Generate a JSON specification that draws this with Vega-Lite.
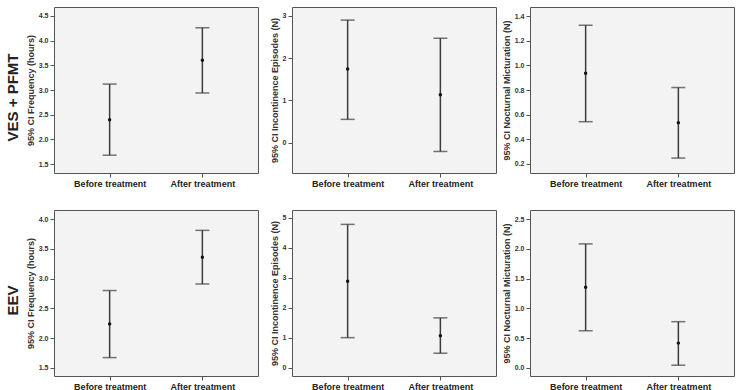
{
  "$schema": "https://vega.github.io/schema/vega-lite/v6.json",
  "background": "white",
  "padding": {"left": 5, "top": 6, "right": 3, "bottom": 1},
  "spacing": 20,
  "datasets": {
    "ci": [
      {"panel": "VES-freq", "group": "Before treatment", "mean": 2.40, "lower": 1.68, "upper": 3.12},
      {"panel": "VES-freq", "group": "After treatment", "mean": 3.60, "lower": 2.94, "upper": 4.26},
      {"panel": "VES-inc", "group": "Before treatment", "mean": 1.74, "lower": 0.55, "upper": 2.90},
      {"panel": "VES-inc", "group": "After treatment", "mean": 1.13, "lower": -0.21, "upper": 2.47},
      {"panel": "VES-noc", "group": "Before treatment", "mean": 0.935, "lower": 0.543, "upper": 1.325},
      {"panel": "VES-noc", "group": "After treatment", "mean": 0.535, "lower": 0.248, "upper": 0.82},
      {"panel": "EEV-freq", "group": "Before treatment", "mean": 2.24, "lower": 1.674, "upper": 2.80},
      {"panel": "EEV-freq", "group": "After treatment", "mean": 3.36, "lower": 2.91, "upper": 3.81},
      {"panel": "EEV-inc", "group": "Before treatment", "mean": 2.88, "lower": 1.0, "upper": 4.78},
      {"panel": "EEV-inc", "group": "After treatment", "mean": 1.06, "lower": 0.48, "upper": 1.66},
      {"panel": "EEV-noc", "group": "Before treatment", "mean": 1.356, "lower": 0.625, "upper": 2.083},
      {"panel": "EEV-noc", "group": "After treatment", "mean": 0.417, "lower": 0.046, "upper": 0.777}
    ]
  },
  "vconcat": [
    {
      "title": {"text": "VES + PFMT"},
      "bounds": "flush",
      "spacing": 34,
      "hconcat": [
        {
          "width": 204, "height": 166,
          "data": {"name": "ci"},
          "transform": [{"filter": {"field": "panel", "equal": "VES-freq"}}],
          "encoding": {
            "x": {"field": "group", "type": "nominal", "sort": null, "scale": {"type": "point", "padding": 0.6, "domain": ["Before treatment", "After treatment"]}, "axis": {"title": null}}
          },
          "layer": [
            {"mark": {"type": "rule", "color": "#3c3c3c", "strokeWidth": 1.5},
             "encoding": {"y": {"field": "lower", "type": "quantitative", "scale": {"domain": [1.32, 4.68], "nice": false, "zero": false}, "axis": {"title": "95% CI Frequency (hours)", "values": [1.5, 2.0, 2.5, 3.0, 3.5, 4.0, 4.5], "tickCount": 20, "labelOverlap": false, "format": ".1f"}}, "y2": {"field": "upper"}}},
            {"mark": {"type": "tick", "color": "#3c3c3c", "size": 14, "thickness": 1.5},
             "encoding": {"y": {"field": "lower", "type": "quantitative"}}},
            {"mark": {"type": "tick", "color": "#3c3c3c", "size": 14, "thickness": 1.5},
             "encoding": {"y": {"field": "upper", "type": "quantitative"}}},
            {"mark": {"type": "point", "filled": true, "color": "#111111", "size": 12, "opacity": 1},
             "encoding": {"y": {"field": "mean", "type": "quantitative"}}}
          ]
        },
        {
          "width": 204, "height": 166,
          "data": {"name": "ci"},
          "transform": [{"filter": {"field": "panel", "equal": "VES-inc"}}],
          "encoding": {
            "x": {"field": "group", "type": "nominal", "sort": null, "scale": {"type": "point", "padding": 0.6, "domain": ["Before treatment", "After treatment"]}, "axis": {"title": null}}
          },
          "layer": [
            {"mark": {"type": "rule", "color": "#3c3c3c", "strokeWidth": 1.5},
             "encoding": {"y": {"field": "lower", "type": "quantitative", "scale": {"domain": [-0.72, 3.21], "nice": false, "zero": false}, "axis": {"title": "95% CI Incontinence Episodes (N)", "values": [0, 1, 2, 3], "tickCount": 20, "labelOverlap": false, "format": "d"}}, "y2": {"field": "upper"}}},
            {"mark": {"type": "tick", "color": "#3c3c3c", "size": 14, "thickness": 1.5},
             "encoding": {"y": {"field": "lower", "type": "quantitative"}}},
            {"mark": {"type": "tick", "color": "#3c3c3c", "size": 14, "thickness": 1.5},
             "encoding": {"y": {"field": "upper", "type": "quantitative"}}},
            {"mark": {"type": "point", "filled": true, "color": "#111111", "size": 12, "opacity": 1},
             "encoding": {"y": {"field": "mean", "type": "quantitative"}}}
          ]
        },
        {
          "width": 204, "height": 166,
          "data": {"name": "ci"},
          "transform": [{"filter": {"field": "panel", "equal": "VES-noc"}}],
          "encoding": {
            "x": {"field": "group", "type": "nominal", "sort": null, "scale": {"type": "point", "padding": 0.6, "domain": ["Before treatment", "After treatment"]}, "axis": {"title": null}}
          },
          "layer": [
            {"mark": {"type": "rule", "color": "#3c3c3c", "strokeWidth": 1.5},
             "encoding": {"y": {"field": "lower", "type": "quantitative", "scale": {"domain": [0.127, 1.473], "nice": false, "zero": false}, "axis": {"title": "95% CI Nocturnal Micturation (N)", "values": [0.2, 0.4, 0.6, 0.8, 1.0, 1.2, 1.4], "tickCount": 20, "labelOverlap": false, "format": ".1f"}}, "y2": {"field": "upper"}}},
            {"mark": {"type": "tick", "color": "#3c3c3c", "size": 14, "thickness": 1.5},
             "encoding": {"y": {"field": "lower", "type": "quantitative"}}},
            {"mark": {"type": "tick", "color": "#3c3c3c", "size": 14, "thickness": 1.5},
             "encoding": {"y": {"field": "upper", "type": "quantitative"}}},
            {"mark": {"type": "point", "filled": true, "color": "#111111", "size": 12, "opacity": 1},
             "encoding": {"y": {"field": "mean", "type": "quantitative"}}}
          ]
        }
      ]
    },
    {
      "title": {"text": "EEV"},
      "bounds": "flush",
      "spacing": 34,
      "hconcat": [
        {
          "width": 204, "height": 166,
          "data": {"name": "ci"},
          "transform": [{"filter": {"field": "panel", "equal": "EEV-freq"}}],
          "encoding": {
            "x": {"field": "group", "type": "nominal", "sort": null, "scale": {"type": "point", "padding": 0.6, "domain": ["Before treatment", "After treatment"]}, "axis": {"title": null}}
          },
          "layer": [
            {"mark": {"type": "rule", "color": "#3c3c3c", "strokeWidth": 1.5},
             "encoding": {"y": {"field": "lower", "type": "quantitative", "scale": {"domain": [1.365, 4.152], "nice": false, "zero": false}, "axis": {"title": "95% CI Frequency (hours)", "values": [1.5, 2.0, 2.5, 3.0, 3.5, 4.0], "tickCount": 20, "labelOverlap": false, "format": ".1f"}}, "y2": {"field": "upper"}}},
            {"mark": {"type": "tick", "color": "#3c3c3c", "size": 14, "thickness": 1.5},
             "encoding": {"y": {"field": "lower", "type": "quantitative"}}},
            {"mark": {"type": "tick", "color": "#3c3c3c", "size": 14, "thickness": 1.5},
             "encoding": {"y": {"field": "upper", "type": "quantitative"}}},
            {"mark": {"type": "point", "filled": true, "color": "#111111", "size": 12, "opacity": 1},
             "encoding": {"y": {"field": "mean", "type": "quantitative"}}}
          ]
        },
        {
          "width": 204, "height": 166,
          "data": {"name": "ci"},
          "transform": [{"filter": {"field": "panel", "equal": "EEV-inc"}}],
          "encoding": {
            "x": {"field": "group", "type": "nominal", "sort": null, "scale": {"type": "point", "padding": 0.6, "domain": ["Before treatment", "After treatment"]}, "axis": {"title": null}}
          },
          "layer": [
            {"mark": {"type": "rule", "color": "#3c3c3c", "strokeWidth": 1.5},
             "encoding": {"y": {"field": "lower", "type": "quantitative", "scale": {"domain": [-0.28, 5.26], "nice": false, "zero": false}, "axis": {"title": "95% CI Incontinence Episodes (N)", "values": [0, 1, 2, 3, 4, 5], "tickCount": 20, "labelOverlap": false, "format": "d"}}, "y2": {"field": "upper"}}},
            {"mark": {"type": "tick", "color": "#3c3c3c", "size": 14, "thickness": 1.5},
             "encoding": {"y": {"field": "lower", "type": "quantitative"}}},
            {"mark": {"type": "tick", "color": "#3c3c3c", "size": 14, "thickness": 1.5},
             "encoding": {"y": {"field": "upper", "type": "quantitative"}}},
            {"mark": {"type": "point", "filled": true, "color": "#111111", "size": 12, "opacity": 1},
             "encoding": {"y": {"field": "mean", "type": "quantitative"}}}
          ]
        },
        {
          "width": 204, "height": 166,
          "data": {"name": "ci"},
          "transform": [{"filter": {"field": "panel", "equal": "EEV-noc"}}],
          "encoding": {
            "x": {"field": "group", "type": "nominal", "sort": null, "scale": {"type": "point", "padding": 0.6, "domain": ["Before treatment", "After treatment"]}, "axis": {"title": null}}
          },
          "layer": [
            {"mark": {"type": "rule", "color": "#3c3c3c", "strokeWidth": 1.5},
             "encoding": {"y": {"field": "lower", "type": "quantitative", "scale": {"domain": [-0.135, 2.652], "nice": false, "zero": false}, "axis": {"title": "95% CI Nocturnal Micturation (N)", "values": [0.0, 0.5, 1.0, 1.5, 2.0, 2.5], "tickCount": 20, "labelOverlap": false, "format": ".1f"}}, "y2": {"field": "upper"}}},
            {"mark": {"type": "tick", "color": "#3c3c3c", "size": 14, "thickness": 1.5},
             "encoding": {"y": {"field": "lower", "type": "quantitative"}}},
            {"mark": {"type": "tick", "color": "#3c3c3c", "size": 14, "thickness": 1.5},
             "encoding": {"y": {"field": "upper", "type": "quantitative"}}},
            {"mark": {"type": "point", "filled": true, "color": "#111111", "size": 12, "opacity": 1},
             "encoding": {"y": {"field": "mean", "type": "quantitative"}}}
          ]
        }
      ]
    }
  ],
  "config": {
    "font": "Liberation Sans",
    "view": {"fill": "#f3f3f3", "stroke": "#555555", "strokeWidth": 1},
    "axis": {"grid": false, "domain": false, "tickColor": "#555555", "labelFontWeight": "bold", "labelColor": "#333333", "titleFontWeight": "bold", "titleColor": "#333333"},
    "axisY": {"labelFontSize": 7, "tickSize": 4, "labelPadding": 2, "titleFontSize": 9, "titlePadding": 3, "labelOverlap": false, "labelFlush": false},
    "axisX": {"labelFontSize": 9, "tickSize": 4, "labelPadding": 2, "labelAngle": 0, "labelColor": "#222222"},
    "title": {"fontSize": 15, "fontWeight": "bold", "color": "#222222", "orient": "left", "anchor": "middle", "offset": 5}
  }
}
